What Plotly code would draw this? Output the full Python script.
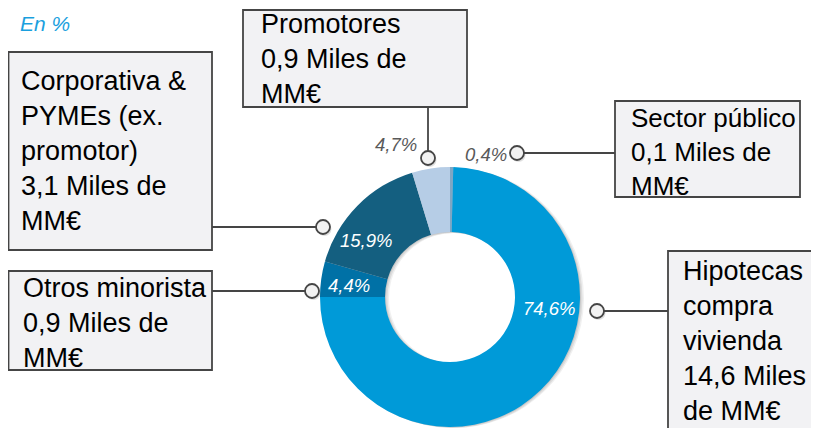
import plotly.graph_objects as go

# page body has an 8px margin: draw the figure at 811x420 so it fills the 819x428 window
OFF = 8
W, H = 819 - OFF, 428 - OFF

# ---- data ----
categories = ["Sector público", "Hipotecas compra vivienda", "Otros minorista",
              "Corporativa & PYMEs (ex. promotor)", "Promotores"]
shares = [0.4, 74.6, 4.4, 15.9, 4.7]          # %
amounts = [0.1, 14.6, 0.9, 3.1, 0.9]          # Miles de MM€
box_texts = [
    "Sector público<br>0,1 Miles de<br>MM€",
    "Hipotecas<br>compra<br>vivienda<br>14,6 Miles<br>de MM€",
    "Otros minorista<br>0,9 Miles de<br>MM€",
    "Corporativa &<br>PYMEs (ex.<br>promotor)<br>3,1 Miles de<br>MM€",
    "Promotores<br>0,9 Miles de<br>MM€",
]
slice_colors = ["#7fa6c4", "#009ad8", "#0071a6", "#145f80", "#b6cde6"]

# ---- layout helpers (reference pixel -> paper) ----
def px(x):
    return (x - OFF) / W

def py(y):
    return 1 - (y - OFF) / H

def clamp(v):
    return min(1.0, max(0.0, v))

cx, cy, R = 450, 297, 130
hole = 0.5

def dom(dx=0, dy=0, r=R):
    return dict(x=[clamp(px(cx + dx - r)), clamp(px(cx + dx + r))],
                y=[clamp(py(cy + dy + r)), clamp(py(cy + dy - r))])

fig = go.Figure()

# soft shadow layers
for (dx, dy, r, a) in [(4, 1, R, 0.06), (2.5, 1, R, 0.08), (1, 0.5, R, 0.10)]:
    fig.add_trace(go.Pie(values=shares, labels=categories, sort=False,
                         direction="clockwise", rotation=0, hole=hole,
                         domain=dom(dx, dy, r), textinfo="none", hoverinfo="skip",
                         marker=dict(colors=[f"rgba(0,0,0,{a})"] * len(shares),
                                     line=dict(width=0)),
                         showlegend=False))

fig.add_trace(go.Pie(values=shares, labels=categories, sort=False,
                     direction="clockwise", rotation=0, hole=hole,
                     domain=dom(), textinfo="none",
                     marker=dict(colors=slice_colors, line=dict(width=0)),
                     showlegend=False))

shapes = []
annotations = []

BORDER = "#454545"
FILL = "#f2f2f4"

# callout geometry per category: box (x0,y0,x1,y1), text origin, font size, connector, dot
callouts = [
    dict(box=(615, 101, 800, 197), txt=(629, 101), fs=26, line=[(615, 153), (517, 153)], dot=(517, 153)),
    dict(box=(668, 251, 812, 445), txt=(681, 254), fs=27, line=[(668, 311), (597, 311)], dot=(597, 311)),
    dict(box=(8.5, 271, 212, 370), txt=(21, 271), fs=27, line=[(212, 291), (312, 291)], dot=(312, 291)),
    dict(box=(8.5, 52, 212, 250), txt=(19, 64), fs=27, line=[(212, 227), (323, 227)], dot=(323, 227)),
    dict(box=(243, 10, 467, 107), txt=(259, 7), fs=27, line=[(428, 107), (428, 158)], dot=(428, 158)),
]

for i, c in enumerate(callouts):
    x0, y0, x1, y1 = c["box"]
    shapes.append(dict(type="rect", xref="paper", yref="paper",
                       x0=px(x0), x1=px(x1), y0=py(y1), y1=py(y0),
                       fillcolor=FILL, line=dict(color=BORDER, width=1.8), layer="above"))
    (ax0, ay0), (ax1, ay1) = c["line"]
    shapes.append(dict(type="line", xref="paper", yref="paper",
                       x0=px(ax0), y0=py(ay0), x1=px(ax1), y1=py(ay1),
                       line=dict(color=BORDER, width=1.8), layer="above"))
    dx, dy = c["dot"]
    r = 7
    shapes.append(dict(type="circle", xref="paper", yref="paper",
                       x0=px(dx - r + 1.5), x1=px(dx + r + 1.5),
                       y0=py(dy + r + 2), y1=py(dy - r + 2),
                       fillcolor="rgba(0,0,0,0.12)", line=dict(width=0), layer="above"))
    shapes.append(dict(type="circle", xref="paper", yref="paper",
                       x0=px(dx - r), x1=px(dx + r),
                       y0=py(dy + r), y1=py(dy - r),
                       fillcolor="#f2f2f2", line=dict(color=BORDER, width=1.8), layer="above"))
    tx, ty = c["txt"]
    annotations.append(dict(xref="paper", yref="paper", x=px(tx), y=py(ty),
                            xanchor="left", yanchor="top", align="left", showarrow=False,
                            text=box_texts[i],
                            font=dict(family="Liberation Sans, Arial", size=c["fs"], color="#000000")))

# percentage labels
pct_pos = [(486, 154), (549, 308), (349, 285), (366, 240), (396, 145)]
pct_inside = [False, True, True, True, False]
for i, v in enumerate(shares):
    x, y = pct_pos[i]
    annotations.append(dict(xref="paper", yref="paper", x=px(x), y=py(y),
                            xanchor="center", yanchor="middle", showarrow=False,
                            text=f"<i>{v:.1f}%</i>".replace(".", ","),
                            font=dict(family="Liberation Sans, Arial", size=18.5,
                                      color="#ffffff" if pct_inside[i] else "#595959")))

annotations.append(dict(xref="paper", yref="paper", x=px(18), y=py(24),
                        xanchor="left", yanchor="middle", showarrow=False,
                        text="<i>En %</i>",
                        font=dict(family="Liberation Sans, Arial", size=21, color="#1a9fde")))

fig.update_layout(width=W, height=H, margin=dict(l=0, r=0, t=0, b=0),
                  paper_bgcolor="#ffffff", plot_bgcolor="#ffffff",
                  shapes=shapes, annotations=annotations, showlegend=False)

fig.write_html("out.html")
